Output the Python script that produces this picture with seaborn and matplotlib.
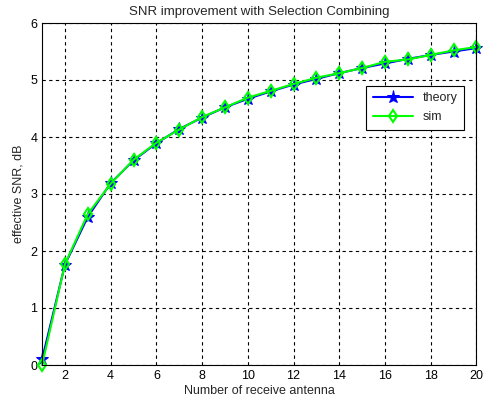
"""SNR improvement with selection combining"""

import pandas as pd
import matplotlib
matplotlib.use("Agg")
import matplotlib.pyplot as plt
import seaborn as sns

n_antenna = list(range(1, 21))
snr_theory = [0.10, 1.76, 2.60, 3.19, 3.59, 3.89, 4.14, 4.34, 4.52, 4.67,
              4.80, 4.92, 5.02, 5.12, 5.21, 5.29, 5.37, 5.44, 5.50, 5.56]
snr_sim = [0.00, 1.77, 2.65, 3.18, 3.60, 3.90, 4.13, 4.35, 4.52, 4.69,
           4.81, 4.93, 5.04, 5.12, 5.21, 5.32, 5.36, 5.44, 5.52, 5.58]


def snr_graph():
    df = pd.DataFrame({"N": n_antenna, "theory": snr_theory, "sim": snr_sim})

    sns.set_style("white")
    plt.rcParams["font.family"] = ["Liberation Sans", "DejaVu Sans"]

    fig = plt.figure(figsize=(5.01, 4.0), dpi=100)
    ax = fig.add_axes([0.084, 0.0875, 0.867, 0.855])

    sns.lineplot(data=df, x="N", y="theory", ax=ax, color="blue", marker="*",
                 markersize=9.5, markeredgecolor="blue", linewidth=1.5,
                 label="theory")
    sns.lineplot(data=df, x="N", y="sim", ax=ax, color="#00ff00", marker="d",
                 markersize=6, markerfacecolor="none", markeredgecolor="#00ff00",
                 markeredgewidth=1.5, linewidth=1.5, label="sim")

    ax.set_xlim(1, 20)
    ax.set_ylim(0, 6)
    ax.set_xticks(range(2, 21, 2))
    ax.set_yticks(range(0, 7))
    ax.grid(True, color="black", linestyle=(0, (3, 3)), linewidth=0.8)
    for s in ax.spines.values():
        s.set_color("black")
        s.set_linewidth(0.8)
    ax.tick_params(labelsize=9, colors="black", direction="in", length=4)
    ax.set_xlabel("Number of receive antenna", fontsize=9, labelpad=2)
    ax.set_ylabel("effective SNR, dB", fontsize=9, labelpad=4)
    ax.set_title("SNR improvement with Selection Combining", fontsize=9.5, pad=6)
    for line in ax.lines:
        line.set_clip_on(False)

    leg = ax.legend(loc="upper right", bbox_to_anchor=(0.985, 0.835),
                    fontsize=9, fancybox=False, framealpha=1,
                    edgecolor="black", handlelength=3.2, borderpad=0.5,
                    labelspacing=0.6)
    leg.get_frame().set_linewidth(0.8)

    plt.savefig("out.png", dpi=100, facecolor="white")
    plt.close()


snr_graph()
